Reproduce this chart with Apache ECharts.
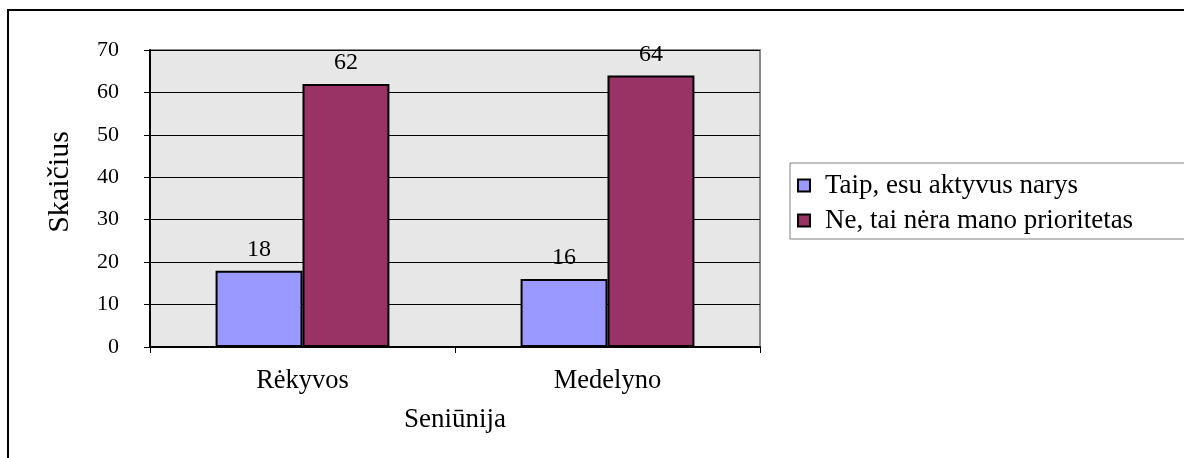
<!DOCTYPE html>
<html>
<head>
<meta charset="utf-8">
<script src="https://cdn.jsdelivr.net/npm/echarts@6/dist/echarts.min.js"></script>
<style>
  html, body { margin: 0; padding: 0; background: #fff; }
  #chart { width: 1184px; height: 458px; }
</style>
</head>
<body>
<div id="chart"></div>
<script>
// Survey answers per eldership (seniūnija)
const categories = ['Rėkyvos', 'Medelyno'];
const seriesNames = ['Taip, esu aktyvus narys', 'Ne, tai nėra mano prioritetas'];
const activeMembers = [18, 16];
const notPriority = [62, 64];
const yTicks = { min: 0, max: 70, interval: 10 };

const FONT = '"Liberation Serif", "Times New Roman", serif';

const chart = echarts.init(document.getElementById('chart'), null, { renderer: 'canvas' });

const barStyle = (color) => ({
  color: color,
  borderColor: '#000',
  borderWidth: 2
});

const labelStyle = {
  show: true,
  position: 'top',
  distance: 9,
  color: '#000',
  fontFamily: FONT,
  fontSize: 24
};

chart.setOption({
  backgroundColor: '#fff',
  animation: false,
  graphic: [{
    type: 'rect',
    shape: { x: 8, y: 10, width: 1300, height: 600 },
    style: { fill: 'none', stroke: '#000', lineWidth: 2 },
    silent: true
  }],
  grid: {
    left: 150, right: 424, top: 50, bottom: 111,
    show: true,
    backgroundColor: '#e7e7e7',
    borderColor: '#8a8a8a',
    borderWidth: 2
  },
  legend: {
    orient: 'vertical',
    left: 790,
    top: 163,
    padding: [9, 90, 5, 7],
    itemGap: 8,
    itemWidth: 12,
    itemHeight: 12,
    icon: 'rect',
    borderColor: '#808080',
    borderWidth: 1,
    backgroundColor: '#fff',
    textStyle: {
      fontFamily: FONT,
      fontSize: 27,
      color: '#000',
      padding: [0, 0, 0, 10]
    },
    data: seriesNames
  },
  xAxis: {
    type: 'category',
    data: categories,
    name: 'Seniūnija',
    nameLocation: 'middle',
    nameGap: 59,
    nameTextStyle: { fontFamily: FONT, fontSize: 27, color: '#000' },
    axisLine: { lineStyle: { color: '#000', width: 2 } },
    axisTick: { show: true, length: 6, lineStyle: { color: '#000', width: 1 } },
    axisLabel: { fontFamily: FONT, fontSize: 26.5, color: '#000', margin: 21 }
  },
  yAxis: {
    type: 'value',
    min: yTicks.min,
    max: yTicks.max,
    interval: yTicks.interval,
    name: 'Skaičius',
    nameLocation: 'middle',
    nameGap: 75,
    nameTextStyle: {
      fontFamily: FONT, fontSize: 30, color: '#000',
      padding: [0, 0, 0, 33]
    },
    axisLine: { show: true, lineStyle: { color: '#000', width: 2 } },
    axisTick: { show: true, length: 6, lineStyle: { color: '#000', width: 1 } },
    axisLabel: { fontFamily: FONT, fontSize: 22, color: '#000', margin: 31 },
    splitLine: { lineStyle: { color: '#000', width: 1 } }
  },
  series: [
    {
      name: seriesNames[0],
      type: 'bar',
      data: activeMembers,
      barGap: '0%',
      barCategoryGap: '43%',
      itemStyle: barStyle('#9999ff'),
      label: labelStyle
    },
    {
      name: seriesNames[1],
      type: 'bar',
      data: notPriority,
      barGap: '0%',
      barCategoryGap: '43%',
      itemStyle: barStyle('#993366'),
      label: labelStyle
    }
  ]
});
</script>
</body>
</html>
